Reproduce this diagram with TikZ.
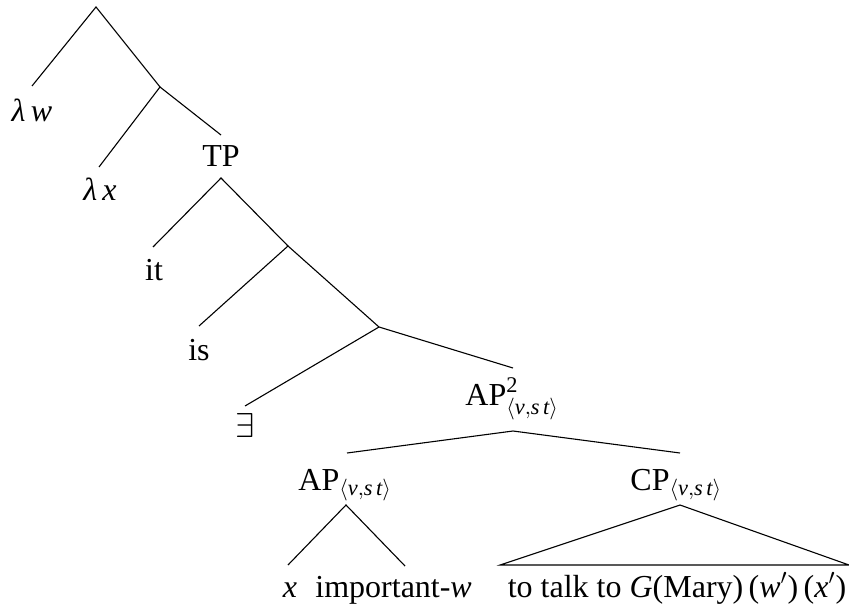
\documentclass[tikz,border=0pt]{standalone}
\usepackage{amsmath}
\usepackage{fontspec}
\setmainfont{Liberation Serif}
\newcommand{\vst}{_{\langle\text{\itshape v},\text{\itshape s}\,\text{\itshape t}\rangle}}
\begin{document}
\begin{tikzpicture}[x=0.5pt,y=-0.5pt,
  lbl/.style={inner sep=0pt,font=\fontsize{16}{19}\selectfont},
  edge/.style={line width=0.55pt}]
\useasboundingbox (0,0) rectangle (849,609);
% junction coordinates
\coordinate (root) at (96,7);
\coordinate (lwT) at (32,86);
\coordinate (n1) at (160,87);
\coordinate (lxT) at (99,167);
\coordinate (tpT) at (221,135);
\coordinate (tpB) at (221,178);
\coordinate (itT) at (153,247);
\coordinate (n2) at (288,246);
\coordinate (isT) at (199,326);
\coordinate (n3) at (379,327);
\coordinate (exT) at (245,406);
\coordinate (ap2T) at (513,368);
\coordinate (ap2B) at (513,431);
\coordinate (apT) at (347,453);
\coordinate (cpT) at (680,453);
\coordinate (apB) at (346,505);
\coordinate (xT) at (288,565);
\coordinate (impT) at (405,566);
\coordinate (cpB) at (680,505);
\coordinate (triL) at (500,565);
\coordinate (triR) at (849,565);
% labels
\node[lbl,anchor=base] (lw) at (32,122) {\textit{λ\,w}};
\node[lbl,anchor=base] (lx) at (100,200) {\textit{λ\,x}};
\node[lbl,anchor=base] (tp) at (221,167) {TP};
\node[lbl,anchor=base] (it) at (154,280) {it};
\node[lbl,anchor=base] (is) at (199,360) {is};
\node[lbl,anchor=base] (ex) at (245,437) {$\exists$};
\node[lbl,anchor=base west] (ap2) at (465,405) {AP$^{\text{2}}\vst$};
\node[lbl,anchor=base west] (ap) at (298,490) {AP$\vst$};
\node[lbl,anchor=base west] (cp) at (630,490) {CP$\vst$};
\node[lbl,anchor=base] (x) at (290,597) {\textit{x}};
\node[lbl,anchor=base west] (imp) at (315,597) {important-\textit{w}};
\node[lbl,anchor=base] (talk) at (677,597) {to talk to \textit{G}(Mary)\,(\textit{w}$'$)\,(\textit{x}$'$)};
% edges
\draw[edge] (lwT) -- (root) -- (n1);
\draw[edge] (lxT) -- (n1) -- (tpT);
\draw[edge] (itT) -- (tpB) -- (n2);
\draw[edge] (isT) -- (n2) -- (n3);
\draw[edge] (exT) -- (n3) -- (ap2T);
\draw[edge] (apT) -- (ap2B) -- (cpT);
\draw[edge] (xT) -- (apB) -- (impT);
\draw[edge] (triL) -- (cpB) -- (triR) -- cycle;
\end{tikzpicture}
\end{document}
